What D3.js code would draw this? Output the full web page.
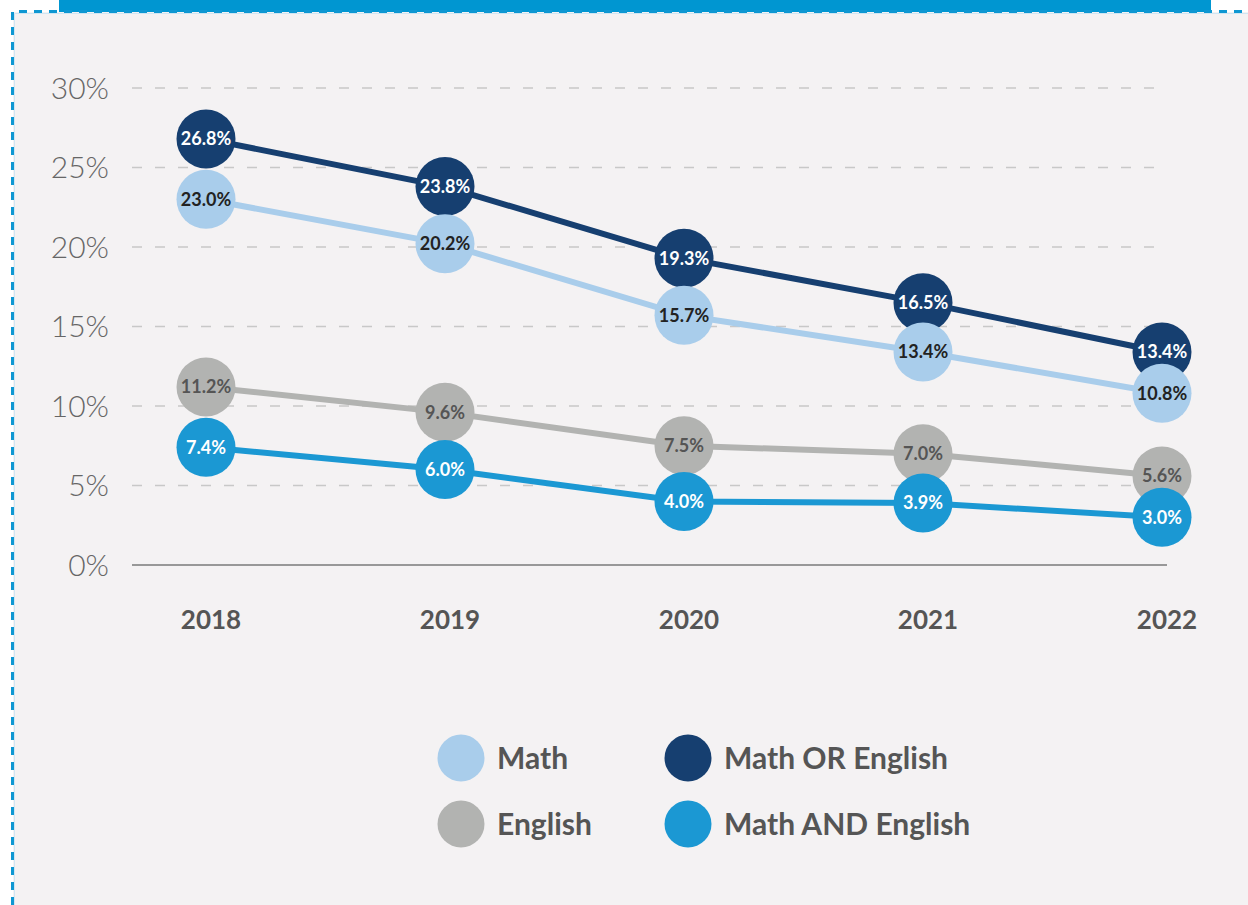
<!DOCTYPE html>
<html lang="en">
    <head>
        <meta charset="utf-8">
        <title>Math and English</title>
        <script src="https://d3js.org/d3.v7.min.js"></script>
        <style type="text/css">
        body { margin: 0; background: #ffffff; }
        .tick-label { font-family: Lato, sans-serif; font-weight: 300; font-size: 30px; fill: #666666; }
        .year { font-family: Lato, sans-serif; font-weight: bold; font-size: 26px; fill: #555555; }
        .pt-label { font-family: Lato, sans-serif; font-weight: bold; font-size: 18px; }
        .legend { font-family: Lato, sans-serif; font-weight: bold; font-size: 30px; fill: #555555; }
        </style>
    </head>
    <body>
    <div id="vis"></div>

    <script type="text/javascript">

        const years = ["2018", "2019", "2020", "2021", "2022"];
        const seriesNames = ["Math OR English", "Math", "English", "Math AND English"];
        const orValues = [26.8, 23.8, 19.3, 16.5, 13.4];
        const mathValues = [23.0, 20.2, 15.7, 13.4, 10.8];
        const englishValues = [11.2, 9.6, 7.5, 7.0, 5.6];
        const andValues = [7.4, 6.0, 4.0, 3.9, 3.0];
        const yTicks = [0, 5, 10, 15, 20, 25, 30];
        const legendOrder = ["Math", "English", "Math OR English", "Math AND English"];

        const width = 1248;
        const height = 905;

        const colors = {
            "Math OR English": "#163f70",
            "Math": "#a9cdeb",
            "English": "#b2b3b1",
            "Math AND English": "#1b98d3"
        };
        const textColors = {
            "Math OR English": "#ffffff",
            "Math": "#222222",
            "English": "#555555",
            "Math AND English": "#ffffff"
        };

        const series = [
            { name: seriesNames[0], values: orValues },
            { name: seriesNames[1], values: mathValues },
            { name: seriesNames[2], values: englishValues },
            { name: seriesNames[3], values: andValues }
        ];

        const xScale = d3.scalePoint()
                         .domain(years)
                         .range([206, 1162]);

        const yScale = d3.scaleLinear()
                         .domain([0, 30])
                         .range([565, 88]);

        const svg = d3.select("#vis")
                      .append("svg")
                      .attr("width", width)
                      .attr("height", height);

        // top bar + panel
        svg.append("rect")
           .attr("x", 59).attr("y", 0)
           .attr("width", 1152).attr("height", 12)
           .attr("fill", "#0096d1");

        svg.append("rect")
           .attr("x", 13).attr("y", 12)
           .attr("width", width - 13).attr("height", height - 12)
           .attr("fill", "#f4f2f3");

        svg.append("path")
           .attr("d", "M12.5," + height + " L12.5,11.5 L" + width + ",11.5")
           .attr("fill", "none")
           .attr("stroke", "#0e97d2")
           .attr("stroke-width", 3)
           .attr("stroke-dasharray", "8,7");

        svg.append("path")
           .attr("d", "M14.5," + height + " L14.5,13.5 L" + width + ",13.5")
           .attr("fill", "none")
           .attr("stroke", "#cfe6f3")
           .attr("stroke-width", 1);

        // grid lines
        svg.selectAll(".grid")
           .data(yTicks.filter(d => d > 0))
           .enter()
           .append("line")
           .attr("x1", 132).attr("x2", 1162)
           .attr("y1", d => yScale(d)).attr("y2", d => yScale(d))
           .attr("stroke", "#c8c8c8")
           .attr("stroke-width", 1.5)
           .attr("stroke-dasharray", "10,13");

        svg.append("line")
           .attr("x1", 132).attr("x2", 1167)
           .attr("y1", yScale(0)).attr("y2", yScale(0))
           .attr("stroke", "#7a7a7a")
           .attr("stroke-width", 1.5);

        svg.selectAll(".tick-label")
           .data(yTicks)
           .enter()
           .append("text")
           .attr("class", "tick-label")
           .attr("x", 109)
           .attr("y", d => yScale(d))
           .attr("dy", "0.36em")
           .attr("text-anchor", "end")
           .text(d => d + "%");

        svg.selectAll(".year")
           .data(years)
           .enter()
           .append("text")
           .attr("class", "year")
           .attr("x", d => xScale(d) + 5)
           .attr("y", 629)
           .attr("text-anchor", "middle")
           .text(d => d);

        const line = d3.line()
                       .x((d, i) => xScale(years[i]))
                       .y(d => yScale(d));

        svg.selectAll(".series-line")
           .data(series)
           .enter()
           .append("path")
           .attr("d", d => line(d.values))
           .attr("fill", "none")
           .attr("stroke", d => colors[d.name])
           .attr("stroke-width", 6);

        series.forEach(function (s) {
            const g = svg.append("g");
            g.selectAll("circle")
             .data(s.values)
             .enter()
             .append("circle")
             .attr("cx", (d, i) => xScale(years[i]))
             .attr("cy", d => yScale(d))
             .attr("r", 29.5)
             .attr("fill", colors[s.name]);
            g.selectAll("text")
             .data(s.values)
             .enter()
             .append("text")
             .attr("class", "pt-label")
             .attr("x", (d, i) => xScale(years[i]))
             .attr("y", d => yScale(d))
             .attr("dy", "0.36em")
             .attr("text-anchor", "middle")
             .attr("fill", textColors[s.name])
             .text(d => d.toFixed(1) + "%");
        });

        // legend
        const legend = svg.selectAll(".legend-item")
                          .data(legendOrder)
                          .enter()
                          .append("g")
                          .attr("transform", (d, i) => "translate(" + (i < 2 ? 461 : 688) + "," + (758 + (i % 2) * 66) + ")");

        legend.append("circle")
              .attr("r", 23.5)
              .attr("fill", d => colors[d]);

        legend.append("text")
              .attr("class", "legend")
              .attr("x", 36)
              .attr("dy", "0.36em")
              .text(d => d);

    </script>
    </body>
</html>
